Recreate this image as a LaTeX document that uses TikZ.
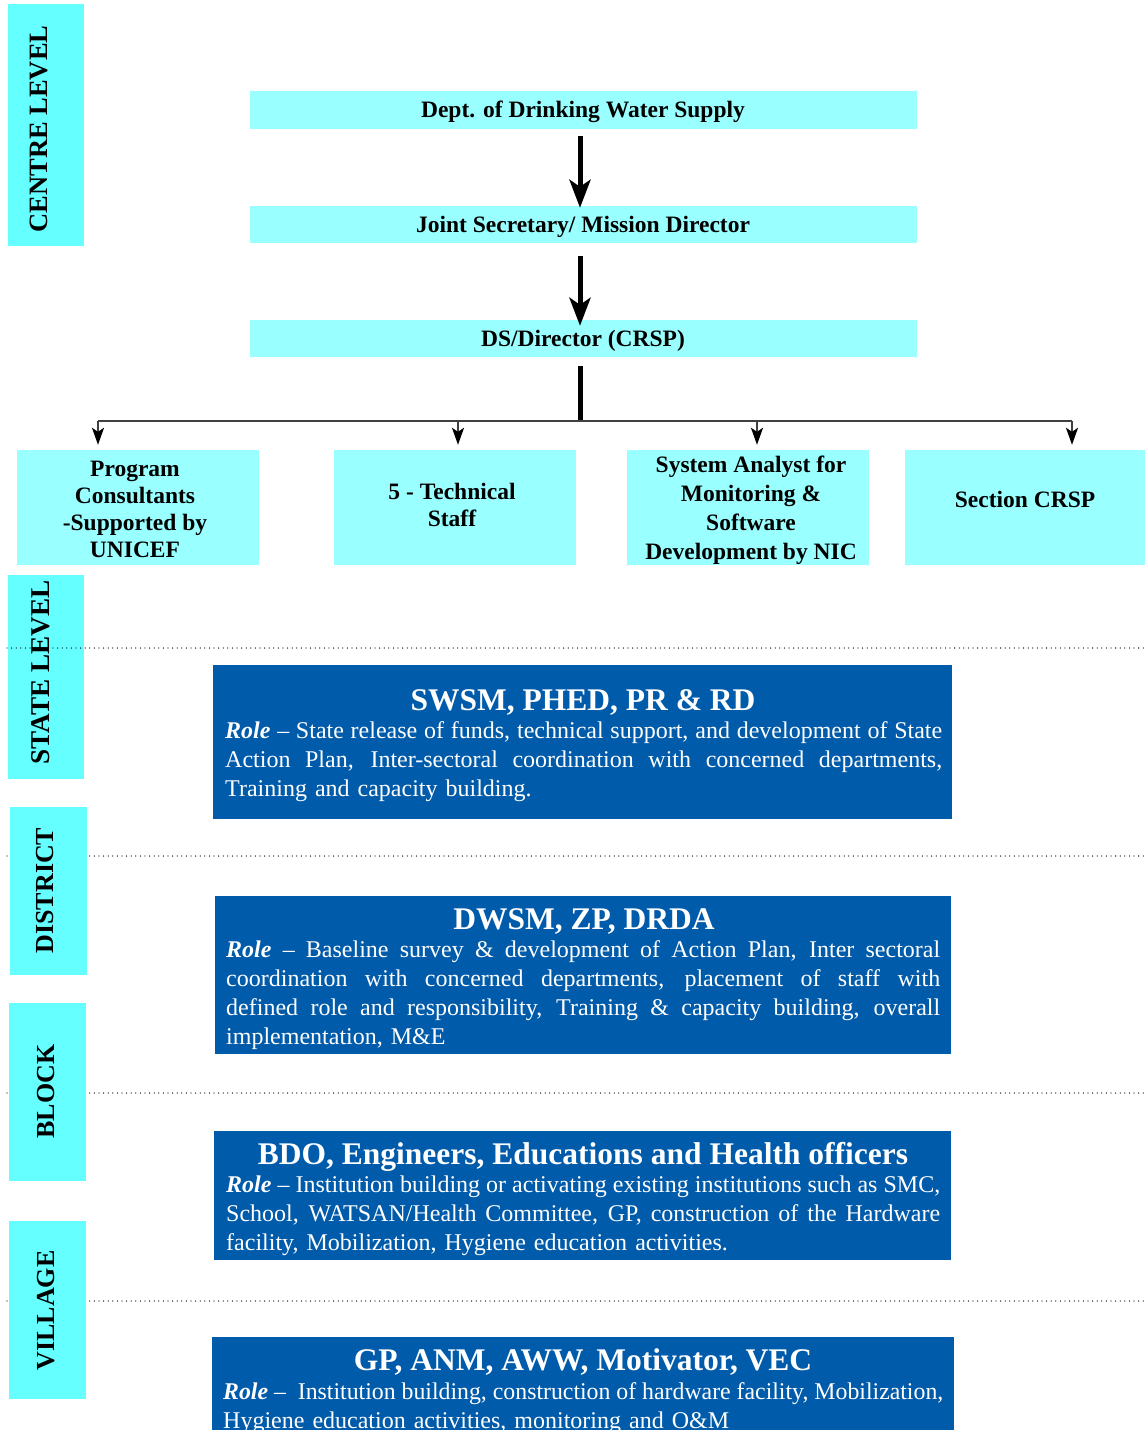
\documentclass[tikz,border=0pt]{standalone}
\usepackage{fontspec}
\usepackage{graphicx}
\setmainfont{Liberation Serif}
\usetikzlibrary{arrows.meta,calc}

\definecolor{tagcyan}{RGB}{102,255,255}
\definecolor{boxcyan}{RGB}{153,255,255}
\definecolor{roleblue}{RGB}{0,91,170}
\definecolor{linegray}{RGB}{64,64,64}

% one fully justified line of a role description, squeezed if it is too long
\newsavebox\jlinebox
\newcommand\wordglue{\spaceskip=.25em plus 3em minus .04em\relax\xspaceskip=\spaceskip}
\newcommand\jline[1]{%
  \sbox\jlinebox{\wordglue #1}%
  \ifdim\wd\jlinebox>\linewidth
    \resizebox{\linewidth}{\ht\jlinebox}{\usebox\jlinebox}\par
  \else
    \hbox to\linewidth{\wordglue #1}%
  \fi}
\newcommand\role{\textbf{\textit{Role}}}

\begin{document}
\begin{tikzpicture}[x=1pt,y=-1pt,
  tagbox/.style={fill=tagcyan,draw=none,inner sep=0pt},
  tagtext/.style={rotate=90,anchor=base,inner sep=0pt,
    font=\fontsize{26}{26}\selectfont\bfseries},
  cbox/.style={fill=boxcyan,draw=none,inner sep=0pt,align=center,
    font=\fontsize{23.5}{27}\selectfont\bfseries},
  ctext/.style={inner sep=0pt,align=center,
    font=\fontsize{23.5}{27}\selectfont\bfseries},
  bbox/.style={fill=roleblue,draw=none,inner sep=0pt},
  headtext/.style={anchor=base,inner sep=0pt,text=white,
    font=\fontsize{31.5}{34}\selectfont\bfseries},
  roletext/.style={anchor=base west,inner sep=0pt,text=white,
    font=\fontsize{24}{29}\selectfont},
  bigarrow/.style={line width=5pt,-{Stealth[length=28pt,width=21pt,inset=7pt]}},
  branch/.style={draw=linegray,line width=2pt},
  droparrow/.style={draw=linegray,line width=2pt,
    -{Stealth[length=17pt,width=12pt,inset=4pt,color=black]}},
  sep/.style={line width=1.3pt,line cap=round,dash pattern=on 0pt off 4.6pt}
]
\useasboundingbox (0,0) rectangle (1145,1430);

% level separators lying behind the level tags
\coordinate (s2a) at (7,856);   \coordinate (s2b) at (1145,856);
\coordinate (s3a) at (7,1093);  \coordinate (s3b) at (1145,1093);
\coordinate (s4a) at (7,1301);  \coordinate (s4b) at (1145,1301);
\draw[sep] (s2a) -- (s2b);
\draw[sep] (s3a) -- (s3b);
\draw[sep] (s4a) -- (s4b);

% level tags
\node[tagbox,minimum width=76pt,minimum height=242pt] (tcentre) at (46,125) {};
\node[tagtext,font=\fontsize{26.5}{26.5}\selectfont\bfseries] (lcentre) at (47,129) {CENTRE LEVEL};
\node[tagbox,minimum width=76pt,minimum height=204pt] (tstate) at (46,677) {};
\node[tagtext,font=\fontsize{27.2}{27.2}\selectfont\bfseries] (lstate) at (49,672.5) {STATE LEVEL};
\node[tagbox,minimum width=77pt,minimum height=168pt] (tdistrict) at (48.5,891) {};
\node[tagtext] (ldistrict) at (53.6,890.5) {DISTRICT};
\node[tagbox,minimum width=77pt,minimum height=178pt] (tblock) at (47.5,1092) {};
\node[tagtext] (lblock) at (54.6,1091.5) {BLOCK};
\node[tagbox,minimum width=77pt,minimum height=178pt] (tvillage) at (47.5,1310) {};
\node[tagtext] (lvillage) at (54.6,1310.5) {VILLAGE};

% state separator runs over its tag
\coordinate (s1a) at (7,648);  \coordinate (s1b) at (1145,648);
\draw[sep] (s1a) -- (s1b);

% centre level chain
\node[cbox,minimum width=667pt,minimum height=38pt] (dept) at (583.5,110) {};
\node[ctext] (depttext) at (583,112) {Dept. of Drinking Water Supply};
\node[cbox,minimum width=667pt,minimum height=37pt] (jsec) at (583.5,224.5) {};
\node[ctext] (jsectext) at (583,227) {Joint Secretary/ Mission Director};
\node[cbox,minimum width=667pt,minimum height=37pt] (ds) at (583.5,338.5) {};
\node[ctext] (dstext) at (583,341) {DS/Director (CRSP)};

\draw[bigarrow] ($(dept.south)+(-3.5,7)$) -- ($(jsec.north)+(-3.5,2)$);
\draw[bigarrow] ($(jsec.south)+(-3.5,13)$) -- ($(ds.north)+(-3.5,6)$);

% units under the director
\node[cbox,minimum width=242pt,minimum height=115pt] (prog) at (138,507.5) {};
\node[ctext] (progtext) at (135,509)
  {Program\\Consultants\\-Supported by\\UNICEF};
\node[cbox,minimum width=242pt,minimum height=115pt] (tech) at (455,507.5) {};
\node[ctext] (techtext) at (452,505)
  {5 - Technical\\Staff};
\node[cbox,minimum width=242pt,minimum height=115pt] (sys) at (748,507.5) {};
\node[ctext,font=\fontsize{23.5}{29}\selectfont\bfseries] (systext) at (751,510)
  {System Analyst for\\Monitoring \&\\Software\\Development by NIC};
\node[cbox,minimum width=240pt,minimum height=115pt] (sect) at (1025,507.5) {};
\node[ctext] (secttext) at (1025,499) {Section CRSP};

\coordinate (hub) at (580,421);
\coordinate (bp1) at (98,421);
\coordinate (bp2) at (458,421);
\coordinate (bp3) at (757,421);
\coordinate (bp4) at (1072,421);
\draw[line width=5pt] ($(ds.south)+(-3.5,9)$) -- ($(hub)+(0,1)$);
\draw[branch] (bp1) -- (bp4);
\draw[droparrow] (bp1) -- ($(bp1 |- prog.north)+(0,-5)$);
\draw[droparrow] (bp2) -- ($(bp2 |- tech.north)+(0,-5)$);
\draw[droparrow] (bp3) -- ($(bp3 |- sys.north)+(0,-5)$);
\draw[droparrow] (bp4) -- ($(bp4 |- sect.north)+(0,-5)$);

% state level
\node[bbox,minimum width=739pt,minimum height=154pt] (swsm) at (582.5,742) {};
\node[headtext] (swsmhead) at (583,710) {SWSM, PHED, PR \& RD};
\node[roletext,text width=717pt] (swsmrole) at (225,738) {%
  \jline{\role\ – State release of funds, technical support, and development of State}
  \jline{Action Plan, Inter-sectoral coordination with concerned departments,}
  Training and capacity building.};

% district level
\node[bbox,minimum width=736pt,minimum height=158pt] (dwsm) at (583,975) {};
\node[headtext] (dwsmhead) at (584,929) {DWSM, ZP, DRDA};
\node[roletext,text width=714pt] (dwsmrole) at (226,957) {%
  \jline{\role\ – Baseline survey \& development of Action Plan, Inter sectoral}
  \jline{coordination with concerned departments, placement of staff with}
  \jline{defined role and responsibility, Training \& capacity building, overall}
  implementation, M\&E};

% block level
\node[bbox,minimum width=737pt,minimum height=129pt] (bdo) at (582.5,1195.5) {};
\node[headtext] (bdohead) at (583,1164) {BDO, Engineers, Educations and Health officers};
\node[roletext,text width=714pt] (bdorole) at (226,1192) {%
  \jline{\role\ – Institution building or activating existing institutions such as SMC,}
  \jline{School, WATSAN/Health Committee, GP, construction of the Hardware}
  facility, Mobilization, Hygiene education activities.};

% village level
\node[bbox,minimum width=742pt,minimum height=93pt] (gp) at (583,1383.5) {};
\node[headtext] (gphead) at (583,1370) {GP, ANM, AWW, Motivator, VEC};
\node[roletext,text width=720pt] (gprole) at (223,1399) {%
  \jline{\role\ –\ \ Institution building, construction of hardware facility, Mobilization,}
  Hygiene education activities, monitoring and O\&M};
\end{tikzpicture}
\end{document}
